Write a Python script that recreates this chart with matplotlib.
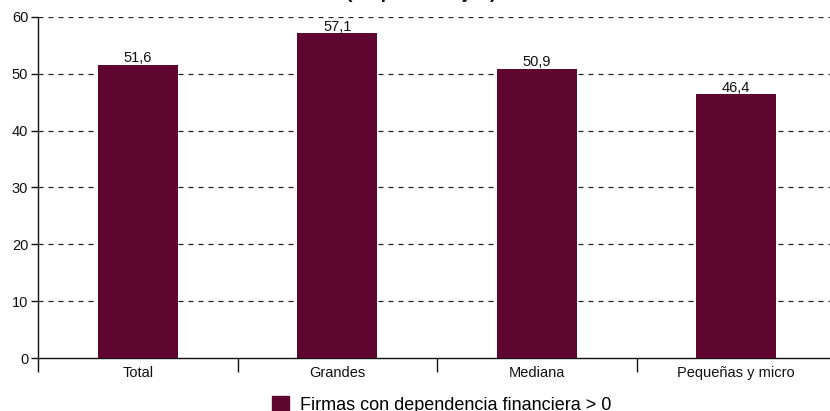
import matplotlib
matplotlib.use("Agg")
import matplotlib.pyplot as plt
from matplotlib.patches import Patch

plt.rcParams['font.family'] = ['Liberation Sans', 'DejaVu Sans']

categories = ["Total", "Grandes", "Mediana", "Pequeñas y micro"]
values = [51.6, 57.1, 50.9, 46.4]
series_name = "Firmas con dependencia financiera > 0"
title = "(en porcentajes)"
bar_color = "#5e0630"

fig = plt.figure(figsize=(8.30, 4.11), dpi=100)
ax = fig.add_axes([38 / 830, 1 - 358 / 411, 798 / 830, (358 - 17) / 411])

x = list(range(len(categories)))
ax.bar(x, values, width=0.4, color=bar_color, zorder=3)
for xi, v in zip(x, values):
    ax.text(xi, v - 0.05, f"{v:.1f}".replace(".", ","), ha="center", va="bottom",
            fontsize=10.5, color="#111111", zorder=4)

ax.set_xlim(-0.5, len(categories) - 0.5)
ax.set_ylim(0, 60)
ax.set_yticks(range(0, 61, 10))
ax.tick_params(axis="y", labelsize=10.5, length=5, width=1, pad=2, colors="#111111")

# category boundaries carry the tick marks; names sit at the centres
ax.set_xticks([i - 0.5 for i in range(len(categories) + 1)])
ax.set_xticklabels([])
ax.set_xticks(x, minor=True)
ax.set_xticklabels(categories, minor=True, fontsize=10.5, color="#111111")
ax.tick_params(axis="x", which="major", length=10, width=1, color="#111111")
ax.tick_params(axis="x", which="minor", length=0, pad=6)

for y in range(10, 61, 10):
    ax.axhline(y, color="#222222", lw=0.9, ls=(0, (4, 4)), zorder=1)

for s in ["top", "right"]:
    ax.spines[s].set_visible(False)
for s in ["left", "bottom"]:
    ax.spines[s].set_color("#111111")
    ax.spines[s].set_linewidth(1)

fig.text(0.508, 1 + 2.5 / 411, title, ha="center", va="baseline",
         fontsize=14, fontweight="bold", color="#111111")

handle = Patch(facecolor=bar_color, edgecolor=bar_color)
fig.legend([handle], [series_name], loc="center", bbox_to_anchor=(0.532, 1 - 405 / 411),
           frameon=False, fontsize=13, handlelength=0.95, handleheight=0.95,
           handletextpad=0.6)

fig.savefig("out.png", dpi=100)
